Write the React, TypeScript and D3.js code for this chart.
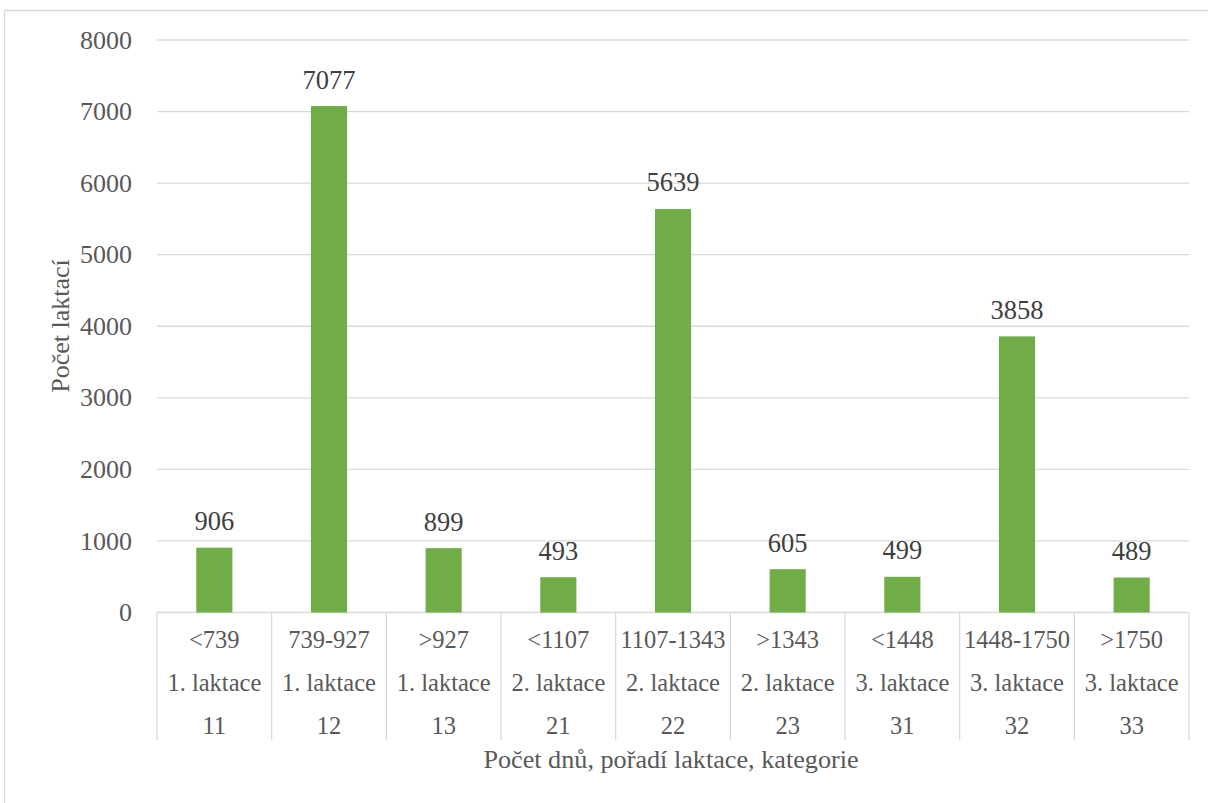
import React from "react";
import * as d3 from "d3";

const ranges = ["<739", "739-927", ">927", "<1107", "1107-1343", ">1343", "<1448", "1448-1750", ">1750"];
const lactations = ["1. laktace", "1. laktace", "1. laktace", "2. laktace", "2. laktace", "2. laktace", "3. laktace", "3. laktace", "3. laktace"];
const codes = ["11", "12", "13", "21", "22", "23", "31", "32", "33"];
const values = [906, 7077, 899, 493, 5639, 605, 499, 3858, 489];
const yTicks = [0, 1000, 2000, 3000, 4000, 5000, 6000, 7000, 8000];

const W = 1208;
const H = 803;
const left = 157;
const right = 1189;
const top = 40;
const bottom = 612.5;
const font = '"Liberation Serif", "Times New Roman", Tinos, "DejaVu Serif", serif';
const grid = "#d9d9d9";
const textCol = "#595959";

export default function App() {
  const x = d3.scaleBand<string>().domain(codes).range([left, right]).paddingInner(0).paddingOuter(0);
  const y = d3.scaleLinear().domain([0, 8000]).range([bottom, top]);
  const step = x.step();
  const bw = step * 0.315;
  const rowY = [648, 691, 734];
  const rows = [ranges, lactations, codes];
  const ts: React.CSSProperties = { fontFamily: font };

  return (
    <svg width={W} height={H} style={{ position: "absolute", left: 0, top: 0, background: "#fff", fontFamily: font }}>
      <rect x={0} y={0} width={W} height={H} fill="#fff" />
      <line x1={4.5} y1={10.5} x2={W} y2={10.5} stroke={grid} strokeWidth={1.3} />
      <line x1={4.5} y1={10.5} x2={4.5} y2={H} stroke={grid} strokeWidth={1.3} />

      {yTicks.map((t) => (
        <g key={t}>
          <line x1={left} x2={right} y1={y(t)} y2={y(t)} stroke={grid} strokeWidth={1.3} />
          <text x={132} y={y(t)} dy="0.33em" textAnchor="end" fontSize={26} fill={textCol} style={ts}>
            {t}
          </text>
        </g>
      ))}

      {values.map((v, i) => {
        const cx = (x(codes[i]) as number) + step / 2;
        return (
          <g key={i}>
            <rect x={cx - bw / 2} y={y(v)} width={bw} height={y(0) - y(v)} fill="#70AD47" />
            <text x={cx} y={y(v) - 17.5} textAnchor="middle" fontSize={26.5} fill="#404040" style={ts}>
              {v}
            </text>
          </g>
        );
      })}

      {d3.range(codes.length + 1).map((i) => {
        const xx = left + i * step;
        return <line key={i} x1={xx} x2={xx} y1={bottom} y2={740} stroke={grid} strokeWidth={1.3} />;
      })}

      {rows.map((row, r) =>
        row.map((lab, i) => (
          <text
            key={r + "-" + i}
            x={(x(codes[i]) as number) + step / 2}
            y={rowY[r]}
            textAnchor="middle"
            fontSize={24.5}
            fill={textCol}
            style={ts}
          >
            {lab}
          </text>
        ))
      )}

      <text x={671} y={768} textAnchor="middle" fontSize={26.2} fill={textCol} style={ts}>
        Počet dnů, pořadí laktace, kategorie
      </text>
      <text transform={`translate(69,326) rotate(-90)`} textAnchor="middle" fontSize={26} fill={textCol} style={ts}>
        Počet laktací
      </text>
    </svg>
  );
}
